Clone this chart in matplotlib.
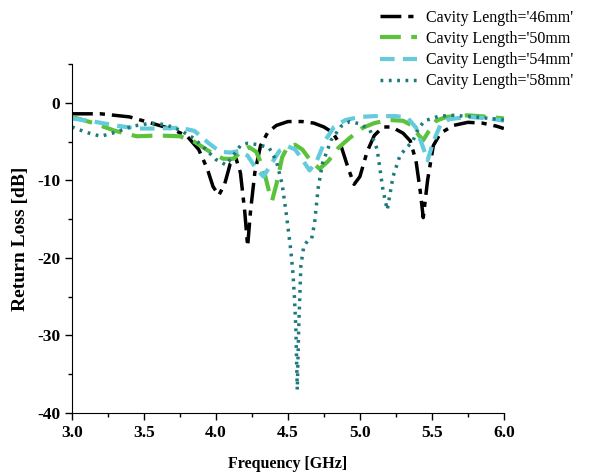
import numpy as np
import matplotlib
matplotlib.use("Agg")
import matplotlib.pyplot as plt
from matplotlib.ticker import MultipleLocator

plt.rcParams['font.family'] = ['Liberation Serif', 'DejaVu Serif']
plt.rcParams['axes.unicode_minus'] = False

# DATA ------------------------------------------------------------------
f46 = [3.0, 3.2, 3.4, 3.55, 3.7, 3.8, 3.88, 3.94, 3.98, 4.02, 4.06, 4.1, 4.14, 4.17, 4.2,
       4.22, 4.24, 4.27, 4.31, 4.36, 4.42, 4.5, 4.6, 4.68, 4.75, 4.81, 4.87, 4.92, 4.96,
       5.0, 5.05, 5.1, 5.16, 5.22, 5.3, 5.35, 5.39, 5.42, 5.44, 5.47, 5.51, 5.56, 5.65,
       5.75, 5.85, 5.95, 6.0]
s46 = [-1.4, -1.4, -1.8, -2.6, -3.4, -4.3, -6.0, -8.5, -10.8, -11.9, -10.5, -7.8, -7.2, -9.0,
       -14.0, -18.5, -14.0, -9.0, -5.5, -3.8, -2.9, -2.4, -2.4, -2.6, -3.1, -3.8, -5.6, -8.5,
       -10.5, -9.5, -6.3, -4.2, -3.1, -3.1, -3.9, -4.9, -7.5, -11.5, -14.8, -10.0, -5.5, -3.9,
       -2.9, -2.5, -2.6, -3.0, -3.3]

f50 = [3.0, 3.15, 3.3, 3.45, 3.6, 3.75, 3.85, 3.95, 4.05, 4.12, 4.18, 4.23, 4.28, 4.33, 4.37,
       4.39, 4.42, 4.46, 4.5, 4.55, 4.6, 4.66, 4.72, 4.78, 4.85, 4.93, 5.02, 5.1, 5.2, 5.3,
       5.36, 5.41, 5.44, 5.48, 5.53, 5.6, 5.75, 5.9, 6.0]
s50 = [-1.8, -2.6, -3.6, -4.3, -4.2, -4.3, -5.0, -6.2, -7.2, -7.2, -6.2, -5.7, -6.3, -8.5,
       -11.5, -12.6, -10.5, -7.0, -5.6, -5.4, -6.0, -7.5, -8.5, -7.5, -5.8, -4.5, -3.2, -2.6,
       -2.2, -2.3, -2.9, -4.2, -4.8, -3.6, -2.3, -1.8, -1.6, -1.8, -2.0]

f54 = [3.0, 3.15, 3.3, 3.45, 3.6, 3.75, 3.85, 3.95, 4.03, 4.1, 4.16, 4.22, 4.28, 4.33, 4.38,
       4.44, 4.5, 4.55, 4.6, 4.65, 4.7, 4.76, 4.82, 4.9, 5.0, 5.1, 5.25, 5.33, 5.39, 5.44,
       5.47, 5.51, 5.56, 5.62, 5.75, 5.9, 6.0]
s54 = [-2.0, -2.4, -2.9, -3.3, -3.3, -3.2, -3.6, -5.2, -6.3, -6.4, -6.2, -6.8, -8.5, -9.5,
       -8.0, -6.2, -5.6, -6.0, -7.3, -8.7, -7.5, -4.8, -3.1, -2.2, -1.8, -1.7, -1.7, -1.9,
       -3.2, -5.8, -7.4, -5.0, -2.8, -2.1, -1.8, -2.0, -2.3]

f58 = [3.0, 3.1, 3.2, 3.3, 3.42, 3.55, 3.65, 3.75, 3.85, 3.93, 4.0, 4.07, 4.12, 4.17, 4.22,
       4.3, 4.37, 4.42, 4.46, 4.49, 4.52, 4.535, 4.545, 4.555, 4.56, 4.565, 4.575, 4.59,
       4.61, 4.64, 4.665, 4.685, 4.71, 4.74, 4.8, 4.87, 4.93, 5.0, 5.07, 5.12, 5.16, 5.19,
       5.23, 5.28, 5.33, 5.37, 5.41, 5.45, 5.55, 5.65, 5.8, 6.0]
s58 = [-3.1, -3.8, -4.3, -3.8, -3.0, -2.6, -2.8, -3.5, -4.6, -6.0, -7.3, -8.0, -6.8, -5.5,
       -5.2, -5.4, -5.8, -7.5, -10.5, -14.5, -19.0, -22.0, -25.0, -29.0, -33.0, -37.0,
       -29.0, -21.0, -18.5, -17.7, -17.5, -15.5, -11.0, -7.8, -4.8, -3.0, -2.4, -2.7, -3.5,
       -6.0, -11.2, -13.8, -9.5, -6.7, -5.7, -4.8, -3.2, -2.3, -1.7, -1.6, -1.8, -2.2]

labels = ["Cavity Length='46mm'", "Cavity Length='50mm", "Cavity Length='54mm'",
          "Cavity Length='58mm'"]

# PLOT ------------------------------------------------------------------
fig = plt.figure(figsize=(5.9, 4.72), dpi=100)
ax = fig.add_axes([0.122, 0.125, 0.732, 0.739])

ax.plot(f46, s46, color='black', lw=2.5, linestyle=(0, (6, 2, 1.5, 2)), label=labels[0])
ax.plot(f50, s50, color='#5cc23c', lw=3, linestyle=(0, (5, 2.5)), label=labels[1])
ax.plot(f54, s54, color='#63cbdc', lw=3, linestyle=(0, (3.5, 2)), label=labels[2])
ax.plot(f58, s58, color='#1d7a7c', lw=2.5, linestyle=(0, (0.8, 1.6)), label=labels[3])

ax.set_xlim(3.0, 6.0)
ax.set_ylim(-40, 5)
ax.xaxis.set_minor_locator(MultipleLocator(0.25))
ax.yaxis.set_minor_locator(MultipleLocator(5))
ax.set_xticks([3.0, 3.5, 4.0, 4.5, 5.0, 5.5, 6.0])
ax.set_xticklabels(['3.0', '3.5', '4.0', '4.5', '5.0', '5.5', '6.0'])
ax.set_yticks([-40, -30, -20, -10, 0])

ax.spines['top'].set_visible(False)
ax.spines['right'].set_visible(False)
ax.tick_params(which='major', direction='out', length=5, width=1, labelsize=12.5)
ax.tick_params(which='minor', direction='out', length=3, width=1)
for lab in ax.get_xticklabels() + ax.get_yticklabels():
    lab.set_fontweight('bold')

ax.set_xlabel("Frequency [GHz]", fontsize=11.5, fontweight='bold', labelpad=11)
ax.set_ylabel("Return Loss [dB]", fontsize=14, fontweight='bold', labelpad=6)

fig.legend(loc='upper left', bbox_to_anchor=(0.62, 1.01), frameon=False,
           fontsize=11.5, handlelength=2.3, labelspacing=0.33, handletextpad=0.6)

fig.savefig("out.png", dpi=100)
